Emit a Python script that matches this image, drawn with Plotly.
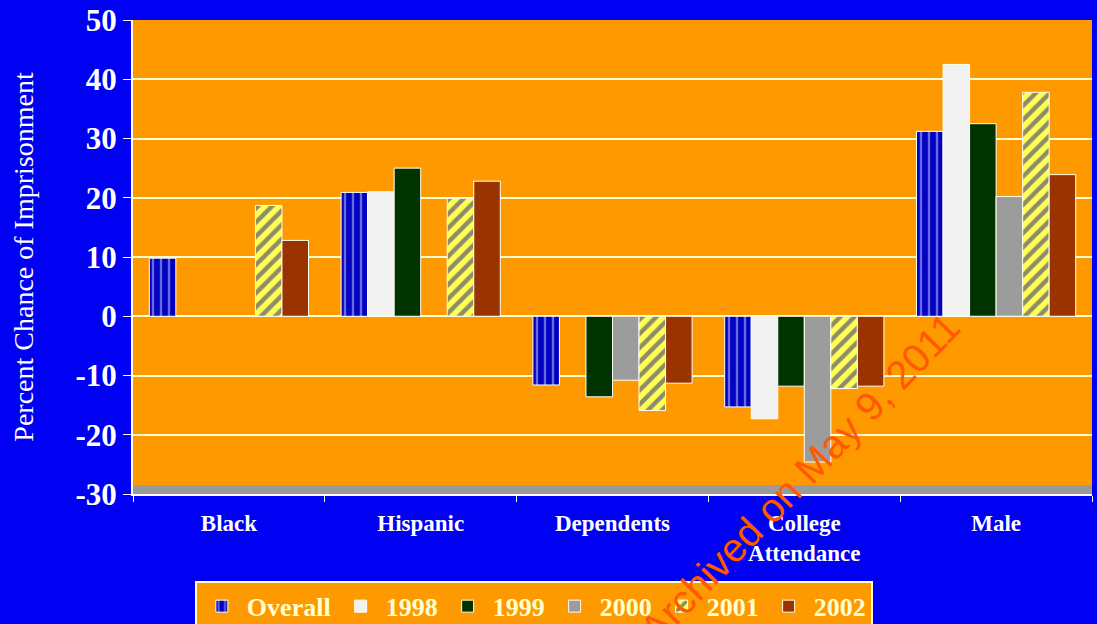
import plotly.graph_objects as go

# categories and series
categories = ["Black", "Hispanic", "Dependents", "College<br>Attendance", "Male"]
series_names = ["Overall", "1998", "1999", "2000", "2001", "2002"]

overall = [9.8, 20.9, -11.6, -15.3, 31.2]
y1998 = [None, 21.0, None, -17.3, 42.5]
y1999 = [None, 25.0, -13.6, -11.8, 32.5]
y2000 = [None, None, -10.8, -24.6, 20.2]
y2001 = [18.7, 19.9, -15.9, -12.2, 37.8]
y2002 = [12.8, 22.8, -11.3, -11.8, 23.9]

y_ticks = [50, 40, 30, 20, 10, 0, -10, -20, -30]
y_tick_text = ["50", "40", "30", "20", "10", "0", "-10", "-20", "-30"]

BLUE_BG = "#0000F2"
ORANGE = "#FF9900"
CREAM = "#FFFFD0"
SERIF = "Liberation Serif, Times New Roman, serif"

styles = {
    "Overall": dict(color="#0000C0", pattern=dict(shape="|", fgcolor="#D0D0FF", bgcolor="#0000C0", size=8, solidity=0.3)),
    "1998": dict(color="#F2F2F2"),
    "1999": dict(color="#003300"),
    "2000": dict(color="#9C9C9C"),
    "2001": dict(color="#FFFF55", pattern=dict(shape="/", fgcolor="#1A1A80", bgcolor="#FFFF55", size=10, solidity=0.45)),
    "2002": dict(color="#993300"),
}
values = [overall, y1998, y1999, y2000, y2001, y2002]

fig = go.Figure()
for name, vals in zip(series_names, values):
    fig.add_trace(go.Bar(
        x=categories, y=vals, name=name,
        marker=dict(**styles[name], line=dict(color="#FFFFF0", width=1)),
    ))

# grey floor strip at the bottom of the plot area
fig.add_shape(type="rect", xref="paper", yref="y", x0=0, x1=1, y0=-30, y1=-28.5,
              fillcolor="#9A9A9A", line=dict(width=0), layer="below")

# archive stamp (runs off the bottom edge, as in the source image)
fig.add_annotation(text="Archived on May 9, 2011", xref="paper", yref="paper",
                   x=(800 - 133) / 959, y=(494 - 478) / 474, xanchor="center", yanchor="middle",
                   showarrow=False, textangle=-46,
                   font=dict(family="Liberation Sans, Arial, sans-serif", size=40, color="#FF5A00"))

fig.update_layout(
    width=1097, height=624,
    paper_bgcolor=BLUE_BG,
    plot_bgcolor=ORANGE,
    barmode="group", bargap=0.17, bargroupgap=0,
    margin=dict(l=133, r=5, t=20, b=130, autoexpand=False),
    font=dict(family=SERIF, color="#FFFFFF"),
    legend=dict(
        orientation="h", x=0.418, xanchor="center", y=-0.183, yanchor="top",
        bgcolor=ORANGE, bordercolor=CREAM, borderwidth=2,
        font=dict(family=SERIF, size=26, color=CREAM, weight="bold"),
        itemwidth=40, tracegroupgap=0,
    ),
    xaxis=dict(
        tickson="boundaries", ticks="outside", ticklen=6, tickcolor="#FFFFFF",
        showline=True, linecolor="#FFFFFF", linewidth=2, showgrid=False,
        tickfont=dict(family=SERIF, size=23, color="#FFFFFF", weight="bold"),
        ticklabelstandoff=7,
    ),
    yaxis=dict(
        range=[-30, 50], tickvals=y_ticks, ticktext=y_tick_text,
        ticks="outside", ticklen=8, tickcolor="#FFFFFF",
        showline=True, linecolor="#FFFFFF", linewidth=2,
        showgrid=True, gridcolor=CREAM, gridwidth=2,
        zeroline=True, zerolinecolor=CREAM, zerolinewidth=2,
        tickfont=dict(family=SERIF, size=31, color="#FFFFFF", weight="bold"),
        title=dict(text="Percent Chance of Imprisonment", standoff=34,
                   font=dict(family=SERIF, size=28, color="#FFFFFF")),
    ),
)

fig.write_html("out.html", config={"displayModeBar": False},
               post_script="document.body.style.margin='0';")
